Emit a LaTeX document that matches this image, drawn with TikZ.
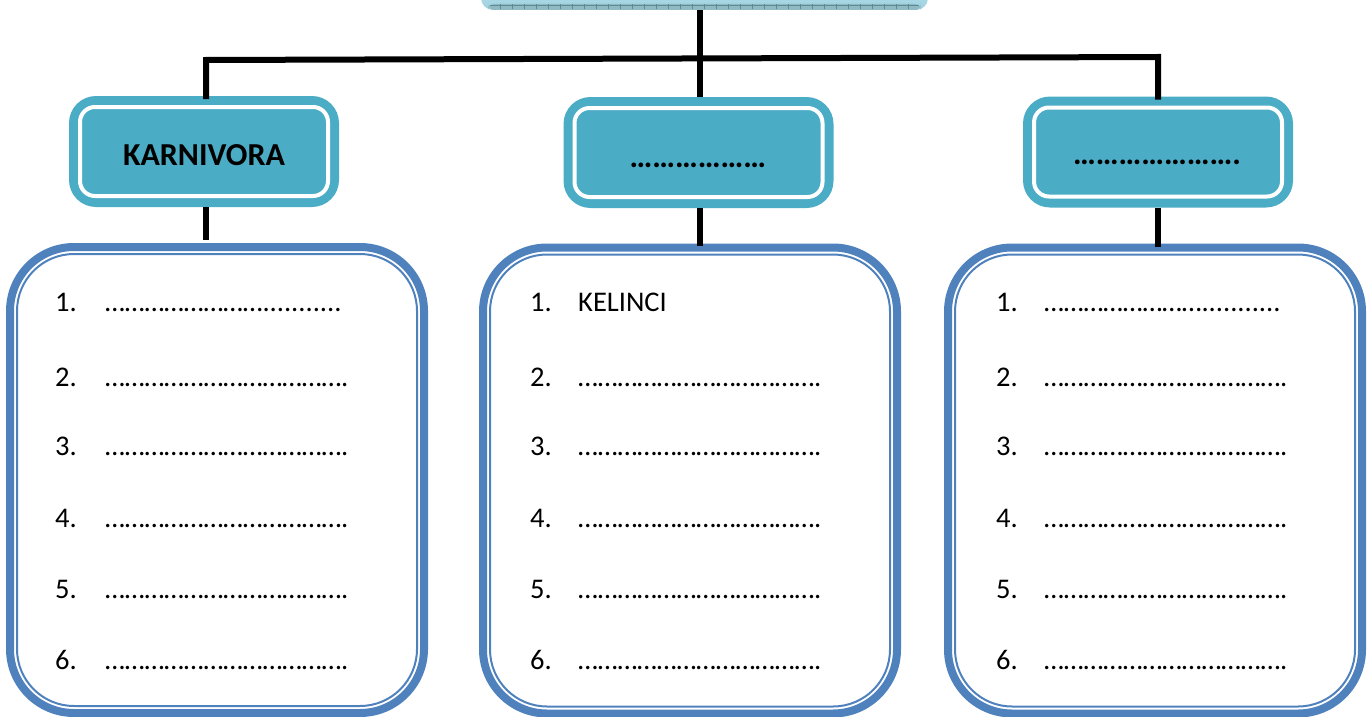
\documentclass[tikz,border=0pt]{standalone}
\usepackage{fontspec}
\setmainfont{Carlito}
\definecolor{catfill}{HTML}{4BACC6}
\definecolor{listblue}{HTML}{4F81BD}
\definecolor{toptop}{HTML}{C4E6F0}
\definecolor{topbot}{HTML}{9FD2E0}
\definecolor{topband}{HTML}{8FB9C3}
\definecolor{toptick}{HTML}{5E8A96}
\tikzset{
  catbox/.style={fill=catfill, rounded corners=27, minimum width=270, minimum height=111, inner sep=0, outer sep=0},
  listbox/.style={draw=listblue, line width=8, rounded corners=64, minimum width=414, minimum height=466, inner sep=0, outer sep=0},
  link/.style={line width=6, black},
  itemtxt/.style={anchor=base west, inner sep=0, font=\fontsize{28.5}{32}\selectfont},
  cattxt/.style={anchor=base, inner sep=0, font=\fontsize{32}{36}\selectfont\bfseries},
}
% runs of ellipsis and period characters for the blank answer lines
\newcommand\ellrun[1]{\foreach \k in {1,...,#1}{…}}
\newcommand\perrun[1]{\foreach \k in {1,...,#1}{.}}
\begin{document}
\begin{tikzpicture}[x=1pt,y=-1pt]
\useasboundingbox (0,0) rectangle (1370,717);

% top box, only its lower edge shows
\begin{scope}
  \clip (0,0) rectangle (1370,717);
  \node[inner sep=0, outer sep=0, minimum width=447, minimum height=40, rounded corners=12,
        top color=toptop, bottom color=topbot] (top) at (704.5,-10) {};
  \fill[topband, rounded corners=6] (488,4) rectangle (921,10);
  \foreach \x in {500,512,...,912} \draw[toptick, line width=0.6] (\x,4.5) -- (\x,9.5);
  \draw[toptick, line width=0.6] (490,5) -- (919,5);
\end{scope}

% category boxes
\node[catbox] (catL) at (204,151.5) {};
\node[catbox] (catM) at (698.5,152.5) {};
\node[catbox] (catR) at (1158,152) {};
\foreach \c in {catL,catM,catR}
  \draw[white, line width=4, rounded corners=15]
    ([shift={(11,11)}]\c.north west) rectangle ([shift={(-11,-11)}]\c.south east);

\node[cattxt] (tL) at (204,165) {KARNIVORA};
\node[cattxt] (tM) at (698,167) {\ellrun{6}};
\node[cattxt] (tR) at (1157,164) {\ellrun{7}.};

% list boxes
\node[listbox] (listL) at (217,480) {};
\node[listbox] (listM) at (690,480.5) {};
\node[listbox] (listR) at (1155,480.5) {};
\foreach \c in {listL,listM,listR}
  \draw[listblue, line width=2, rounded corners=57]
    ([shift={(7,7)}]\c.north west) rectangle ([shift={(-7,-7)}]\c.south east);

% connectors
\coordinate (hubL) at (206,60);
\coordinate (hubR) at (1158,57);
\coordinate (hubM) at (700,59);
\draw[link] (top.south -| hubM) -- (catM.north -| hubM);
\draw[link, line cap=rect] (catL.north -| hubL) -- (hubL) -- (hubR) -- (catR.north -| hubR);
\draw[link] (catL.south -| hubL) -- ([yshift=7]listL.north -| hubL);
\draw[link] (catM.south -| hubM) -- ([yshift=2]listM.north -| hubM);
\draw[link] (catR.south -| hubR) -- ([yshift=1]listR.north -| hubR);

% numbered lines
\foreach \n/\y in {1/311,2/386,3/455,4/527,5/598,6/669} {
  \node[itemtxt] (nL\n) at (55,\y) {\n.};
  \node[itemtxt] (nM\n) at (530,\y) {\n.};
  \node[itemtxt] (nR\n) at (996,\y) {\n.};
}
\node[itemtxt] (dL1) at (105,311) {\ellrun{8}\perrun{11}};
\node[itemtxt] (dM1) at (578,311) {KELINCI};
\node[itemtxt] (dR1) at (1044,311) {\ellrun{8}\perrun{11}};
\foreach \n/\y in {2/386,3/455,4/527,5/598,6/669} {
  \node[itemtxt] (dL\n) at (105,\y) {\ellrun{12}.};
  \node[itemtxt] (dM\n) at (578,\y) {\ellrun{12}.};
  \node[itemtxt] (dR\n) at (1044,\y) {\ellrun{12}.};
}
\end{tikzpicture}
\end{document}
